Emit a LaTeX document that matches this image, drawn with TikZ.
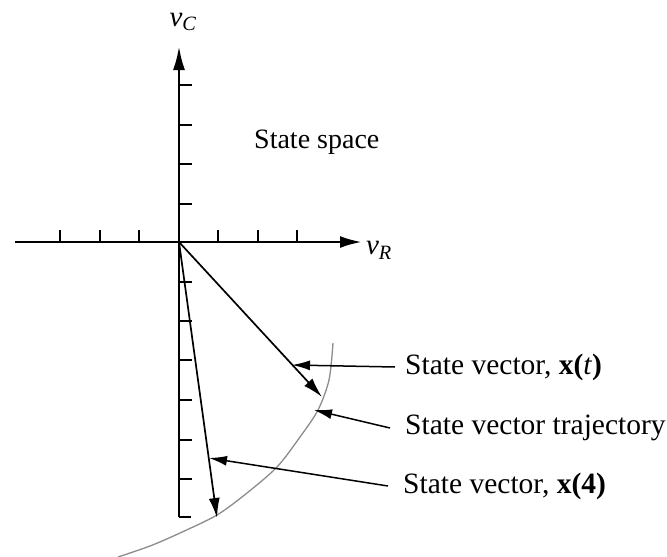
\documentclass[tikz,border=0pt]{standalone}
\usepackage{fontspec}
\setmainfont{Liberation Serif}
\usetikzlibrary{arrows.meta}
\begin{document}
\begin{tikzpicture}[x=1pt,y=-1pt,
  axis/.style={line width=2.8pt,black},
  tickmark/.style={line width=2pt,black},
  vec/.style={line width=1.7pt,black,-{Latex[length=20pt,width=11pt]}},
  leader/.style={line width=1.5pt,black,-{Latex[length=18pt,width=10pt]}},
  traj/.style={line width=1.3pt,black!45},
  lbl/.style={font=\fontsize{29.5}{31}\selectfont,inner sep=0pt,anchor=west},
  sslbl/.style={font=\fontsize{28}{30}\selectfont,inner sep=0pt,anchor=west},
  axlbl/.style={font=\fontsize{29}{30}\selectfont,inner sep=0pt}]
\useasboundingbox (0,0) rectangle (667,557);
\coordinate (O) at (179,242);
\coordinate (hl) at (15,242);
\coordinate (hr) at (362,242);
\coordinate (vt) at (179,46);
\coordinate (vb) at (179,517);
\coordinate (foot) at (191,517);
% horizontal axis
\draw[axis,-{Latex[length=22pt,width=12pt]}] (hl) -- (hr);
\foreach \x in {60,100,139,218,258,297}
  \draw[tickmark] (\x,242) -- (\x,230);
% vertical axis
\draw[axis,-{Latex[length=24pt,width=12pt]}] (vb) -- (vt);
\draw[axis] (vb) -- (foot);
\foreach \y in {85,125,164,204,282,321,360,400,440,479}
  \draw[tickmark] (179,\y) -- (192,\y);
% labels of axes
\node[axlbl] (vC) at (183,22) {\itshape v\textsubscript{C}};
\node[axlbl] (vR) at (379,250) {\itshape v\textsubscript{R}};
\node[sslbl] (ss) at (254,142) {State space};
% trajectory
\draw[traj] plot[smooth] coordinates {(333,343) (329,380) (318,410) (300,437) (277,467) (247,493) (217,515) (180,533) (150,546) (118,557)};
% state vectors
\coordinate (xt) at (322,397);
\coordinate (x4) at (217,518);
\draw[vec] (O) -- (xt);
\draw[vec] (O) -- (x4);
% labels with leaders
\node[lbl] (Lxt) at (405,367) {State vector, \textbf{x(}\textit{t}\textbf{)}};
\node[lbl] (Ltr) at (405,428) {State vector trajectory};
\node[lbl] (Lx4) at (403,486) {State vector, \textbf{x(4)}};
\coordinate (pxt) at (292,365);
\coordinate (ptr) at (314,410);
\coordinate (px4) at (209,458);
\draw[leader] ([xshift=-10pt]Lxt.west) -- (pxt);
\draw[leader] ([xshift=-15pt]Ltr.west) -- (ptr);
\draw[leader] ([xshift=-15pt]Lx4.west) -- (px4);
\end{tikzpicture}
\end{document}
